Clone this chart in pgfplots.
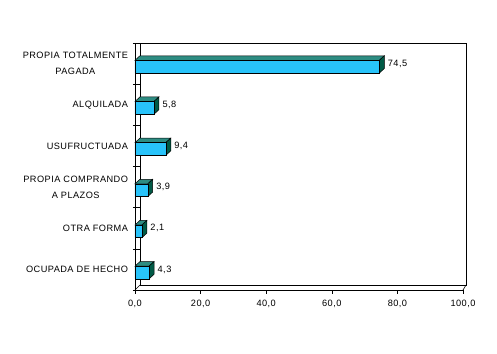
\documentclass[border=0pt]{standalone}
\usepackage{fontspec}
\setmainfont{Liberation Sans}[LetterSpace=5]
\usepackage{pgfplots}
\pgfplotsset{compat=1.18}
\definecolor{barfront}{RGB}{40,195,250}
\definecolor{bartop}{RGB}{45,140,130}
\definecolor{barside}{RGB}{0,90,70}
\pgfplotsset{/pgf/number format/.cd, use comma, fixed, fixed zerofill, precision=1, assume math mode=true}
\begin{document}
\begin{tikzpicture}
\useasboundingbox[fill=white] (-135bp,-64bp) rectangle (362bp,290bp);
\begin{axis}[
  at={(0,0)}, anchor=south west,
  scale only axis, width=328bp, height=247bp,
  xmin=0, xmax=100, ymin=-0.5, ymax=5.5,
  axis x line=bottom, axis y line=left,
  axis line style={-, black, line width=0.7bp},
  clip=false,
  xtick={0,20,...,100},
  ytick={0,...,5},
  yticklabels={OCUPADA DE HECHO, OTRA FORMA, PROPIA COMPRANDO\\A PLAZOS, USUFRUCTUADA, ALQUILADA, PROPIA TOTALMENTE\\PAGADA},
  minor ytick={-0.5,0.5,...,5.5},
  major y tick style={draw=none},
  minor y tick style={black, line width=0.6bp, xshift=5bp},
  minor tick length=7bp,
  major tick length=3.5bp,
  tick align=outside,
  major x tick style={black, line width=0.6bp},
  yticklabel style={align=center, font=\fontsize{9.2bp}{16bp}\selectfont, xshift=0bp},
  xticklabel style={font=\fontsize{9.2bp}{11bp}\selectfont, yshift=-3bp},
]
% back wall
\draw[black, line width=0.6bp] ([xshift=5bp,yshift=5bp]rel axis cs:0,0) -- ([xshift=5bp]rel axis cs:0,1) -- ([xshift=3bp]rel axis cs:1,1) -- ([xshift=3bp,yshift=5bp]rel axis cs:1,0) -- cycle;
\draw[black, line width=0.6bp] (rel axis cs:0,0) -- ([xshift=5bp,yshift=5bp]rel axis cs:0,0);
\draw[black, line width=0.6bp] (rel axis cs:1,0) -- ([xshift=3bp,yshift=5bp]rel axis cs:1,0);
% top faces
\addplot[fill=bartop, draw=black, line width=0.5bp] coordinates {(0,5.08) (74.5,5.08) (76,5.19) (1.5,5.19)} -- cycle;
\addplot[fill=bartop, draw=black, line width=0.5bp] coordinates {(0,4.08) (5.8,4.08) (7.3,4.19) (1.5,4.19)} -- cycle;
\addplot[fill=bartop, draw=black, line width=0.5bp] coordinates {(0,3.08) (9.4,3.08) (10.9,3.19) (1.5,3.19)} -- cycle;
\addplot[fill=bartop, draw=black, line width=0.5bp] coordinates {(0,2.08) (3.9,2.08) (5.4,2.19) (1.5,2.19)} -- cycle;
\addplot[fill=bartop, draw=black, line width=0.5bp] coordinates {(0,1.08) (2.1,1.08) (3.6,1.19) (1.5,1.19)} -- cycle;
\addplot[fill=bartop, draw=black, line width=0.5bp] coordinates {(0,0.08) (4.3,0.08) (5.8,0.19) (1.5,0.19)} -- cycle;
% side faces
\addplot[fill=barside, draw=black, line width=0.5bp] coordinates {(74.5,4.77) (74.5,5.08) (76,5.19) (76,4.88)} -- cycle;
\addplot[fill=barside, draw=black, line width=0.5bp] coordinates {(5.8,3.77) (5.8,4.08) (7.3,4.19) (7.3,3.88)} -- cycle;
\addplot[fill=barside, draw=black, line width=0.5bp] coordinates {(9.4,2.77) (9.4,3.08) (10.9,3.19) (10.9,2.88)} -- cycle;
\addplot[fill=barside, draw=black, line width=0.5bp] coordinates {(3.9,1.77) (3.9,2.08) (5.4,2.19) (5.4,1.88)} -- cycle;
\addplot[fill=barside, draw=black, line width=0.5bp] coordinates {(2.1,0.77) (2.1,1.08) (3.6,1.19) (3.6,0.88)} -- cycle;
\addplot[fill=barside, draw=black, line width=0.5bp] coordinates {(4.3,-0.23) (4.3,0.08) (5.8,0.19) (5.8,-0.12)} -- cycle;
% front faces
\addplot[xbar, bar width=0.31, bar shift=-0.075, fill=barfront, draw=black, line width=0.5bp,
  point meta=x, nodes near coords,
  every node near coord/.append style={font=\fontsize{9.2bp}{11bp}\selectfont, anchor=west, xshift=5bp}]
  coordinates {(74.5,5) (5.8,4) (9.4,3) (3.9,2) (2.1,1) (4.3,0)};
\end{axis}
\end{tikzpicture}
\end{document}
